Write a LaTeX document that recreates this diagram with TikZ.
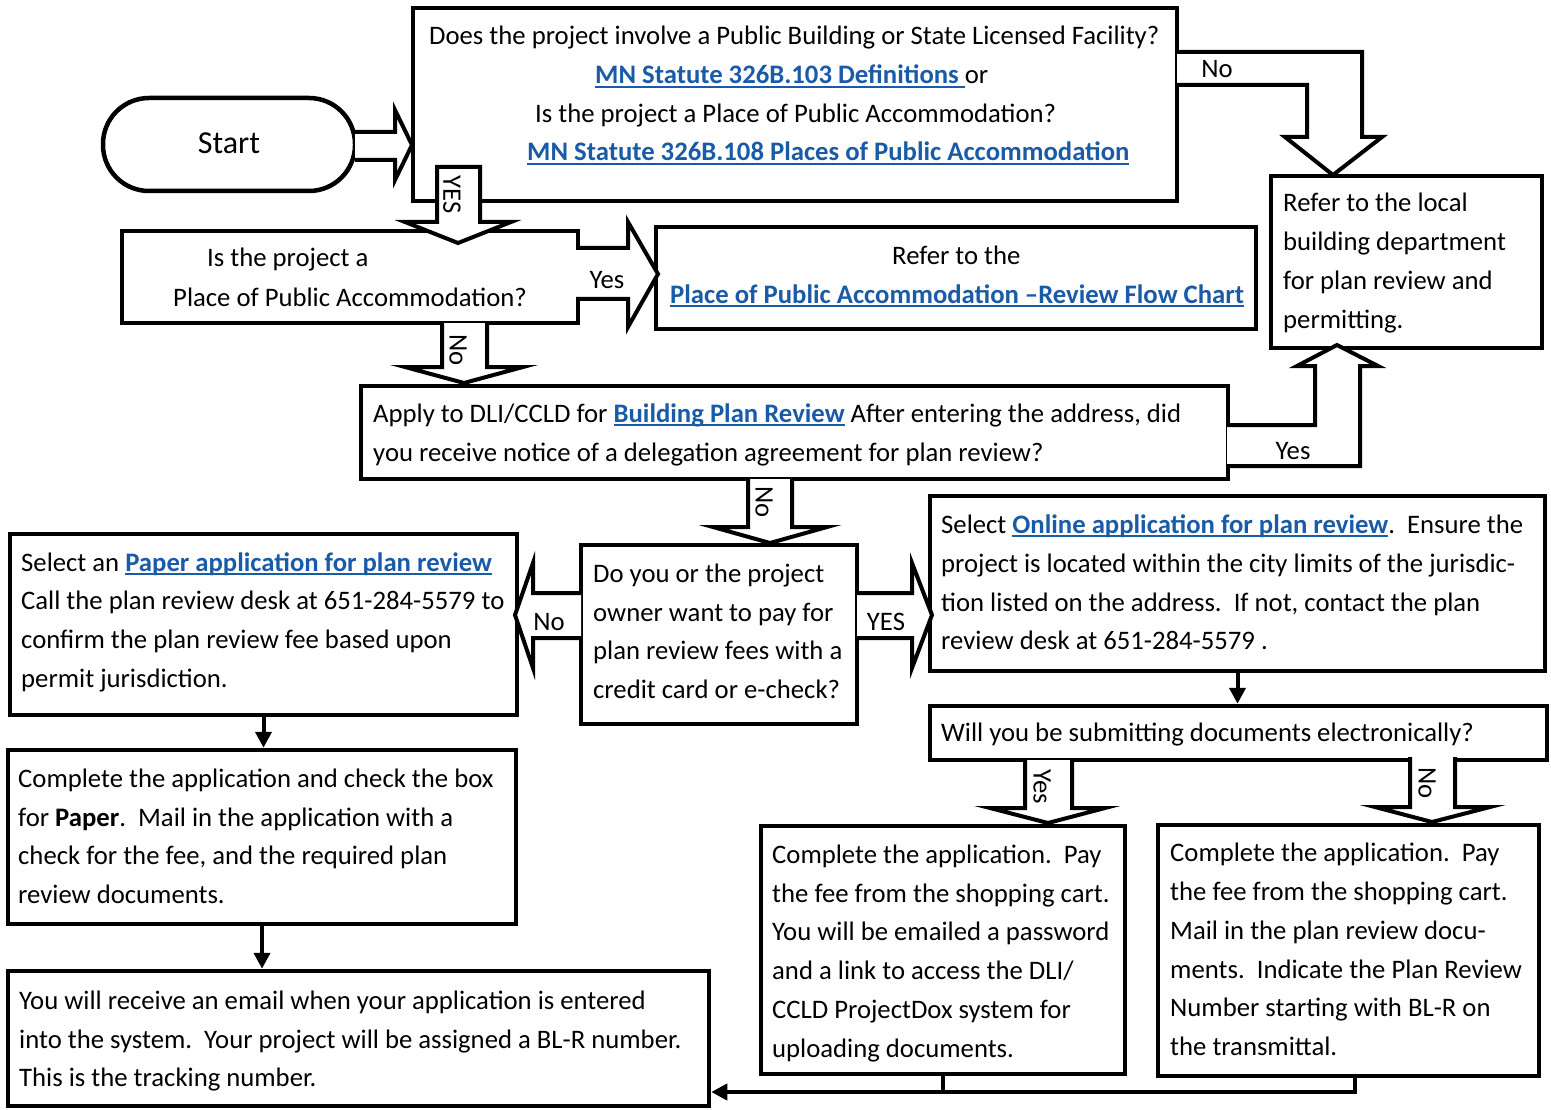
\documentclass[tikz,border=0pt]{standalone}
\usepackage{fontspec}
\setmainfont{Carlito}
\usetikzlibrary{arrows.meta}
\definecolor{linkblue}{HTML}{1A5BA8}
\newcommand{\lnk}[1]{\textcolor{linkblue}{\bfseries\setbox0\hbox{#1}\rlap{\rule[-3.8pt]{\wd0}{1.8pt}}\box0}}
\tikzset{
  box/.style={draw, line width=4.5pt, inner sep=0pt, fill=white},
  tl/.style={anchor=base west, inner sep=0pt},
  blk/.style={draw, line width=4pt, fill=white, line join=miter},
  lab/.style={inner sep=0pt},
  arr/.style={line width=4pt, -{Triangle[length=16pt,width=16pt]}},
  con/.style={line width=4pt}
}
\begin{document}
\begin{tikzpicture}[x=1pt,y=-1pt,font=\fontsize{26.7}{39}\selectfont]
\useasboundingbox (0,0) rectangle (1551,1110);
% boxes
\node[box, rounded corners=46pt, minimum width=252pt, minimum height=93pt] (start) at (229,144.5) {};
\node[box, minimum width=764pt, minimum height=193pt] (q1) at (795,104.5) {};
\node[box, minimum width=456pt, minimum height=92pt] (q2) at (350,277) {};
\node[box, minimum width=600pt, minimum height=102pt] (r1) at (956,278) {};
\node[box, minimum width=271pt, minimum height=172pt] (r2) at (1406.5,262) {};
\node[box, minimum width=867pt, minimum height=93pt] (q3) at (794.5,432.5) {};
\node[box, minimum width=276pt, minimum height=179pt] (q4) at (719,634.5) {};
\node[box, minimum width=507pt, minimum height=181pt] (l1) at (263.5,624.5) {};
\node[box, minimum width=615pt, minimum height=175pt] (r3) at (1237.5,583.5) {};
\node[box, minimum width=617pt, minimum height=54pt] (r4) at (1238.5,733) {};
\node[box, minimum width=364pt, minimum height=248pt] (r5) at (943,950) {};
\node[box, minimum width=381pt, minimum height=251pt] (r6) at (1348.5,950.5) {};
\node[box, minimum width=508pt, minimum height=174pt] (l2) at (262,837) {};
\node[box, minimum width=701pt, minimum height=135pt] (l3) at (358.5,1038.5) {};

% block arrows
\path[blk] (355,132) -- (395,132) -- (395,110) -- (412,145) -- (395,180) -- (395,160) -- (355,160);
\path[blk] (1177,52) -- (1362,52) -- (1362,137) -- (1382,137) -- (1333,175) -- (1285,137) -- (1307,137) -- (1307,85) -- (1177,85);
\path[blk] (437,167) -- (480,167) -- (480,222) -- (511,222) -- (458,243) -- (405,222) -- (437,222) -- cycle;
\path[blk] (576,248) -- (628,248) -- (628,222) -- (658,274) -- (628,327) -- (628,299) -- (576,299);
\path[blk] (442,323) -- (442,367) -- (405,367) -- (464,383) -- (523,367) -- (487,367) -- (487,323);
\path[blk] (1227,425) -- (1315,425) -- (1315,366) -- (1297,366) -- (1337,345) -- (1378,366) -- (1360,366) -- (1360,466) -- (1227,466);
\path[blk] (748,479) -- (748,527) -- (713,527) -- (770,543) -- (827,527) -- (792,527) -- (792,479);
\path[blk] (581,593) -- (533,593) -- (533,563) -- (515,615) -- (533,668) -- (533,638) -- (581,638);
\path[blk] (857,593) -- (912,593) -- (912,563) -- (932,615) -- (912,668) -- (912,638) -- (857,638);
\path[blk] (1025,760) -- (1025,808) -- (990,808) -- (1048,823) -- (1105,808) -- (1072,808) -- (1072,760);
\path[blk] (1410,757) -- (1410,807) -- (1375,807) -- (1432,822) -- (1490,807) -- (1455,807) -- (1455,757);

% arrow labels
\node[lab, rotate=-90] (ly1) at (452,195) {YES};
\node[lab] (ln1) at (1217,69) {No};
\node[lab] (ly2) at (607,280) {Yes};
\node[lab, rotate=-90] (ln2) at (458,350) {No};
\node[lab] (ly3) at (1293,451) {Yes};
\node[lab, rotate=-90] (ln3) at (764,502) {No};
\node[lab] (ln4) at (549,622) {No};
\node[lab] (ly4) at (886,622) {YES};
\node[lab, rotate=-90] (ly5) at (1042,787) {Yes};
\node[lab, rotate=-90] (ln5) at (1427,783) {No};

% small connectors
\draw[arr] (l1.south) -- (l1.south |- l2.north);
\draw[arr] (l2.south) -- (l2.south |- l3.north);
\draw[arr] (r3.south) -- (r3.south |- r4.north);
\coordinate (bj) at (943,1092);
\coordinate (bk) at (1355,1092);
\draw[con] (r5.south) -- (bj);
\draw[arr] (bk |- r6.south) -- (bk) -- (l3.east |- bj);

% texts
\node[lab, font=\fontsize{32}{36}\selectfont] (ts) at (229,143) {Start};

\node[tl] (t1a) at (429,45) {Does the project involve a Public Building or State Licensed Facility?};
\node[tl] (t1b) at (595,84) {\lnk{MN Statute 326B.103 Definitions\ }or};
\node[tl] (t1c) at (535,123) {Is the project a Place of Public Accommodation?};
\node[tl] (t1d) at (527,161) {\lnk{MN Statute 326B.108 Places of Public Accommodation}};

\node[tl] (t2a) at (207,267) {Is the project a};
\node[tl] (t2b) at (173,306) {Place of Public Accommodation?};

\node[tl] (t3a) at (892,265) {Refer to the};
\node[tl] (t3b) at (670,303) {\lnk{Place of Public Accommodation –Review Flow Chart}};

\node[tl] (t4a) at (1283,212) {Refer to the local};
\node[tl] (t4b) at (1283,251) {building department};
\node[tl] (t4c) at (1283,290) {for plan review and};
\node[tl] (t4d) at (1283,328) {permitting.};

\node[tl] (t5a) at (373,422) {Apply to DLI/CCLD for \lnk{Building Plan Review} After entering the address, did};
\node[tl] (t5b) at (373,461) {you receive notice of a delegation agreement for plan review?};

\node[tl] (t6a) at (593,582) {Do you or the project};
\node[tl] (t6b) at (593,621) {owner want to pay for};
\node[tl] (t6c) at (593,659) {plan review fees with a};
\node[tl] (t6d) at (593,698) {credit card or e-check?};

\node[tl] (t7a) at (21,571) {Select an \lnk{Paper application for plan review}};
\node[tl] (t7b) at (21,609) {Call the plan review desk at 651-284-5579 to};
\node[tl] (t7c) at (21,648) {confirm the plan review fee based upon};
\node[tl] (t7d) at (21,687) {permit jurisdiction.};

\node[tl] (t8a) at (941,533) {Select \lnk{Online application for plan review}.\ \ Ensure the};
\node[tl] (t8b) at (941,572) {project is located within the city limits of the jurisdic-};
\node[tl] (t8c) at (941,611) {tion listed on the address.\ \ If not, contact the plan};
\node[tl] (t8d) at (941,649) {review desk at 651-284-5579 .};

\node[tl] (t9a) at (941,741) {Will you be submitting documents electronically?};

\node[tl] (t10a) at (772,863) {Complete the application.\ \ Pay};
\node[tl] (t10b) at (772,902) {the fee from the shopping cart.};
\node[tl] (t10c) at (772,940) {You will be emailed a password};
\node[tl] (t10d) at (772,979) {and a link to access the DLI/};
\node[tl] (t10e) at (772,1018) {CCLD ProjectDox system for};
\node[tl] (t10f) at (772,1057) {uploading documents.};

\node[tl] (t11a) at (1170,861) {Complete the application.\ \ Pay};
\node[tl] (t11b) at (1170,900) {the fee from the shopping cart.};
\node[tl] (t11c) at (1170,939) {Mail in the plan review docu-};
\node[tl] (t11d) at (1170,978) {ments.\ \ Indicate the Plan Review};
\node[tl] (t11e) at (1170,1016) {Number starting with BL-R on};
\node[tl] (t11f) at (1170,1055) {the transmittal.};

\node[tl] (t12a) at (18,787) {Complete the application and check the box};
\node[tl] (t12b) at (18,826) {for \textbf{Paper}.\ \ Mail in the application with a};
\node[tl] (t12c) at (18,864) {check for the fee, and the required plan};
\node[tl] (t12d) at (18,903) {review documents.};

\node[tl] (t13a) at (19,1009) {You will receive an email when your application is entered};
\node[tl] (t13b) at (19,1048) {into the system.\ \ Your project will be assigned a BL-R number.};
\node[tl] (t13c) at (19,1086) {This is the tracking number.};
\end{tikzpicture}
\end{document}
